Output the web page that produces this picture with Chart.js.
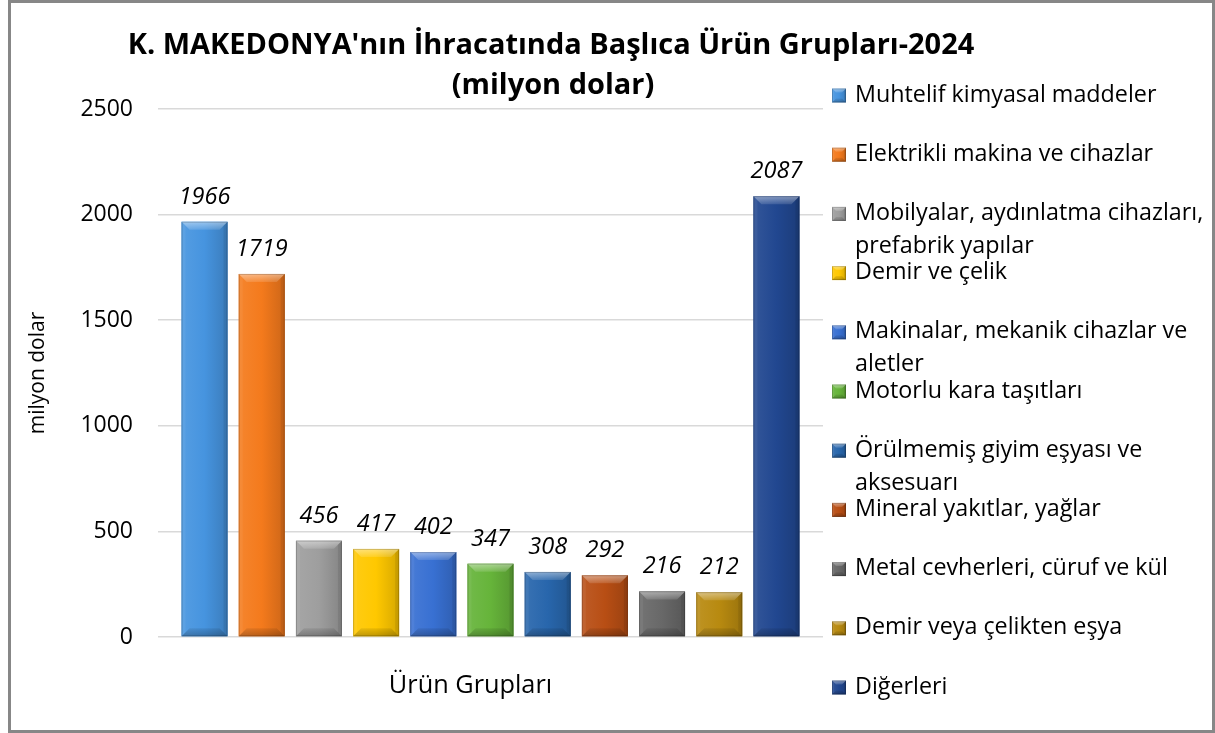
<!DOCTYPE html>
<html><head><meta charset="utf-8">
<script src="https://cdn.jsdelivr.net/npm/chart.js@4.4.1/dist/chart.umd.min.js"></script>
<style>html,body{margin:0;padding:0;background:#fff;}canvas{display:block;}</style>
</head><body>
<canvas id="c" width="1215" height="733"></canvas>
<script>
// ---- data ----
const categories = ['Ürün Grupları'];
const seriesLabels = [
  ['Muhtelif kimyasal maddeler'],
  ['Elektrikli makina ve cihazlar'],
  ['Mobilyalar, aydınlatma cihazları,', 'prefabrik yapılar'],
  ['Demir ve çelik'],
  ['Makinalar, mekanik cihazlar ve', 'aletler'],
  ['Motorlu kara taşıtları'],
  ['Örülmemiş giyim eşyası ve', 'aksesuarı'],
  ['Mineral yakıtlar, yağlar'],
  ['Metal cevherleri, cüruf ve kül'],
  ['Demir veya çelikten eşya'],
  ['Diğerleri']
];
const seriesValues = [1966, 1719, 456, 417, 402, 347, 308, 292, 216, 212, 2087];
const seriesColors = ['#4694DF', '#F47A1C', '#9E9E9E', '#FFC800', '#3870D2', '#66B43A', '#2866AC', '#B84E14', '#686868', '#B88A10', '#214790'];
const yTicks = [0, 500, 1000, 1500, 2000, 2500];
const titleLines = ["K. MAKEDONYA'nın İhracatında Başlıca Ürün Grupları-2024", "(milyon dolar)"];
const yAxisTitle = 'milyon dolar';

// ---- helpers ----
function mix(hex, target, t) {
  const n = parseInt(hex.slice(1), 16);
  const r = (n >> 16) & 255, g = (n >> 8) & 255, b = n & 255;
  const f = c => Math.round(c + (target - c) * t);
  return `rgb(${f(r)},${f(g)},${f(b)})`;
}
function bevelRect(ctx, l, t, w, h, color, d) {
  const r = l + w, b = t + h;
  d = Math.min(d, w / 2, h / 2);
  const g = ctx.createLinearGradient(l, 0, r, 0);
  g.addColorStop(0, mix(color, 255, 0.08));
  g.addColorStop(0.5, color);
  g.addColorStop(1, mix(color, 0, 0.16));
  ctx.save();
  ctx.fillStyle = g;
  ctx.fillRect(l, t, w, h);
  const poly = (pts, fill) => {
    ctx.beginPath(); ctx.moveTo(pts[0][0], pts[0][1]);
    for (let k = 1; k < pts.length; k++) ctx.lineTo(pts[k][0], pts[k][1]);
    ctx.closePath(); ctx.fillStyle = fill; ctx.fill();
  };
  const tg = ctx.createLinearGradient(0, t, 0, t + d);
  tg.addColorStop(0, 'rgba(255,255,255,0.45)');
  tg.addColorStop(1, 'rgba(255,255,255,0.12)');
  poly([[l, t], [r, t], [r - d, t + d], [l + d, t + d]], tg);
  const bg = ctx.createLinearGradient(0, b - d, 0, b);
  bg.addColorStop(0, 'rgba(0,0,0,0.08)');
  bg.addColorStop(1, 'rgba(0,0,0,0.25)');
  poly([[l, b], [r, b], [r - d, b - d], [l + d, b - d]], bg);
  poly([[l, t], [l + d * 0.5, t + d * 0.5], [l + d * 0.5, b - d * 0.5], [l, b]], 'rgba(255,255,255,0.05)');
  poly([[r, t], [r - d * 0.5, t + d * 0.5], [r - d * 0.5, b - d * 0.5], [r, b]], 'rgba(0,0,0,0.08)');
  ctx.strokeStyle = 'rgba(0,0,0,0.18)';
  ctx.lineWidth = 1;
  ctx.strokeRect(l + 0.5, t + 0.5, w - 1, h - 1);
  ctx.restore();
}

const FONT = '"Open Sans", "DejaVu Sans", sans-serif';

const decor = {
  id: 'decor',
  beforeDraw(chart) {
    const ctx = chart.ctx;
    ctx.save(); ctx.fillStyle = '#fff'; ctx.fillRect(0, 0, chart.width, chart.height); ctx.restore();
  },
  afterDatasetsDraw(chart) {
    const ctx = chart.ctx;
    chart.data.datasets.forEach((ds, i) => {
      const meta = chart.getDatasetMeta(i);
      meta.data.forEach((el, j) => {
        const p = el.getProps(['x', 'y', 'base', 'width'], true);
        bevelRect(ctx, p.x - p.width / 2, p.y, p.width, p.base - p.y, ds.backgroundColor, 8);
        ctx.save();
        ctx.font = 'italic 23.5px ' + FONT;
        ctx.fillStyle = '#000';
        ctx.textAlign = 'center';
        ctx.textBaseline = 'alphabetic';
        ctx.fillText(String(ds.data[j]), p.x, p.y - 18);
        ctx.restore();
      });
    });
  },
  afterDraw(chart) {
    const ctx = chart.ctx;
    // title
    ctx.save();
    ctx.font = 'bold 30px ' + FONT;
    const w0 = ctx.measureText(titleLines[0]).width;
    const ts = 30 * 847 / w0;
    ctx.font = `bold ${ts.toFixed(2)}px ${FONT}`;
    ctx.fillStyle = '#000';
    ctx.textAlign = 'center';
    ctx.textBaseline = 'middle';
    ctx.fillText(titleLines[0], 551, 46);
    ctx.fillText(titleLines[1], 553, 86);
    ctx.restore();
    // legend
    ctx.save();
    ctx.font = '23.3px ' + FONT;
    ctx.textBaseline = 'middle';
    ctx.textAlign = 'left';
    seriesLabels.forEach((lines, i) => {
      const cy = 95 + i * 59.2;
      bevelRect(ctx, 832, cy - 6.5, 14, 14, seriesColors[i], 4);
      ctx.fillStyle = '#000';
      lines.forEach((ln, k) => ctx.fillText(ln, 855, cy + k * 33));
    });
    ctx.restore();
    // outer border
    ctx.save();
    ctx.strokeStyle = '#878787';
    ctx.lineWidth = 3;
    ctx.strokeRect(9.5, 1.5, 1204, 730);
    ctx.restore();
  }
};

const datasets = seriesValues.map((v, i) => ({
  label: seriesLabels[i].join(' '),
  data: [v],
  backgroundColor: seriesColors[i],
  borderWidth: 0,
  categoryPercentage: 0.946,
  barPercentage: 0.804
}));

new Chart(document.getElementById('c'), {
  type: 'bar',
  data: { labels: categories, datasets },
  plugins: [decor],
  options: {
    responsive: false,
    animation: false,
    devicePixelRatio: 1,
    layout: { padding: { top: 109, right: 392, bottom: 0, left: 0 } },
    plugins: { legend: { display: false }, title: { display: false }, tooltip: { enabled: false } },
    scales: {
      x: {
        grid: { display: false, drawTicks: false },
        border: { display: false },
        ticks: { color: '#000', font: { family: FONT, size: 25.3 }, padding: 34, labelOffset: -20 },
        afterFit(s) { s.height = 96; }
      },
      y: {
        min: 0, max: 2500,
        afterBuildTicks(s) { s.ticks = yTicks.map(v => ({ value: v })); },
        grid: { color: '#D9D9D9', lineWidth: 1.5, drawTicks: false },
        border: { display: false },
        ticks: { color: '#000', font: { family: FONT, size: 23 }, padding: 25, callback: v => String(v) },
        title: { display: true, text: yAxisTitle, color: '#000', font: { family: FONT, size: 21 }, padding: { top: 25, bottom: 0 } },
        afterFit(s) { s.width = 158; }
      }
    }
  }
});
</script>
</body></html>
